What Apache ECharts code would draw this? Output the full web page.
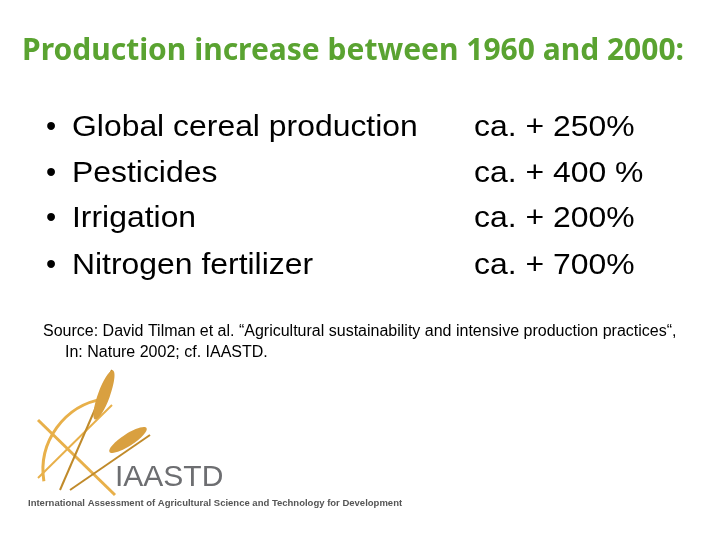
<!DOCTYPE html>
<html><head><meta charset="utf-8">
<script src="https://cdn.jsdelivr.net/npm/echarts@6/dist/echarts.min.js"></script>
<style>html,body{margin:0;padding:0;background:#fff}#c{width:720px;height:540px}</style>
</head><body><div id="c"></div>
<script>
const title = 'Production increase between 1960 and 2000:';
const categories = ['Global cereal production','Pesticides','Irrigation','Nitrogen fertilizer'];
const valueLabels = ['ca. + 250%','ca. + 400 %','ca. + 200%','ca. + 700%'];
const rowY = [128,174,219,266];
const source1 = 'Source: David Tilman et al. “Agricultural sustainability and intensive production practices“,';
const source2 = 'In: Nature 2002; cf. IAASTD.';

const chart = echarts.init(document.getElementById('c'));
const g = [];
g.push({type:'text',x:22,y:51,style:{text:title,font:'bold 30px "Noto Sans"',fill:'#5aa331',verticalAlign:'middle'}});
const F='29px "Liberation Sans"';
categories.forEach((c,i)=>{
  g.push({type:'text',x:46,y:rowY[i],style:{text:'•',font:F,fill:'#000',verticalAlign:'middle'}});
  g.push({type:'text',x:72,y:rowY[i],scaleX:1.1,originX:0,originY:0,style:{text:c,font:F,fill:'#000',verticalAlign:'middle'}});
  g.push({type:'text',x:474,y:rowY[i],scaleX:1.1,originX:0,originY:0,style:{text:valueLabels[i],font:F,fill:'#000',verticalAlign:'middle'}});
});
g.push({type:'text',x:43,y:332,style:{text:source1,font:'16px "Liberation Sans"',fill:'#000',verticalAlign:'middle'}});
g.push({type:'text',x:65,y:353,style:{text:source2,font:'16px "Liberation Sans"',fill:'#000',verticalAlign:'middle'}});
const orange='#e8b04a';
g.push({type:'arc',shape:{cx:115,cy:470,r:72,startAngle:Math.PI*0.95,endAngle:Math.PI*1.45},style:{stroke:orange,lineWidth:3,fill:'none'}});
g.push({type:'line',shape:{x1:38,y1:420,x2:115,y2:495},style:{stroke:orange,lineWidth:3}});
g.push({type:'line',shape:{x1:38,y1:478,x2:112,y2:405},style:{stroke:orange,lineWidth:2}});
g.push({type:'line',shape:{x1:60,y1:490,x2:112,y2:370},style:{stroke:'#c08a2a',lineWidth:2}});
g.push({type:'line',shape:{x1:70,y1:490,x2:150,y2:435},style:{stroke:'#c08a2a',lineWidth:2}});
g.push({type:'ellipse',shape:{cx:104,cy:395,rx:6,ry:26},rotation:-0.35,originX:104,originY:395,style:{fill:'#d9a040'}});
g.push({type:'ellipse',shape:{cx:128,cy:440,rx:6,ry:22},rotation:-1.0,originX:128,originY:440,style:{fill:'#d9a040'}});
g.push({type:'text',x:115,y:478,style:{text:'IAASTD',font:'30px "Liberation Sans"',fill:'#6d6e71',verticalAlign:'middle'},z:5});
g.push({type:'text',x:28,y:503,style:{text:'International Assessment of Agricultural Science and Technology for Development',font:'bold 9.5px "Liberation Sans"',fill:'#555',verticalAlign:'middle'},z:5});
chart.setOption({graphic:{elements:g}});
</script></body></html>
